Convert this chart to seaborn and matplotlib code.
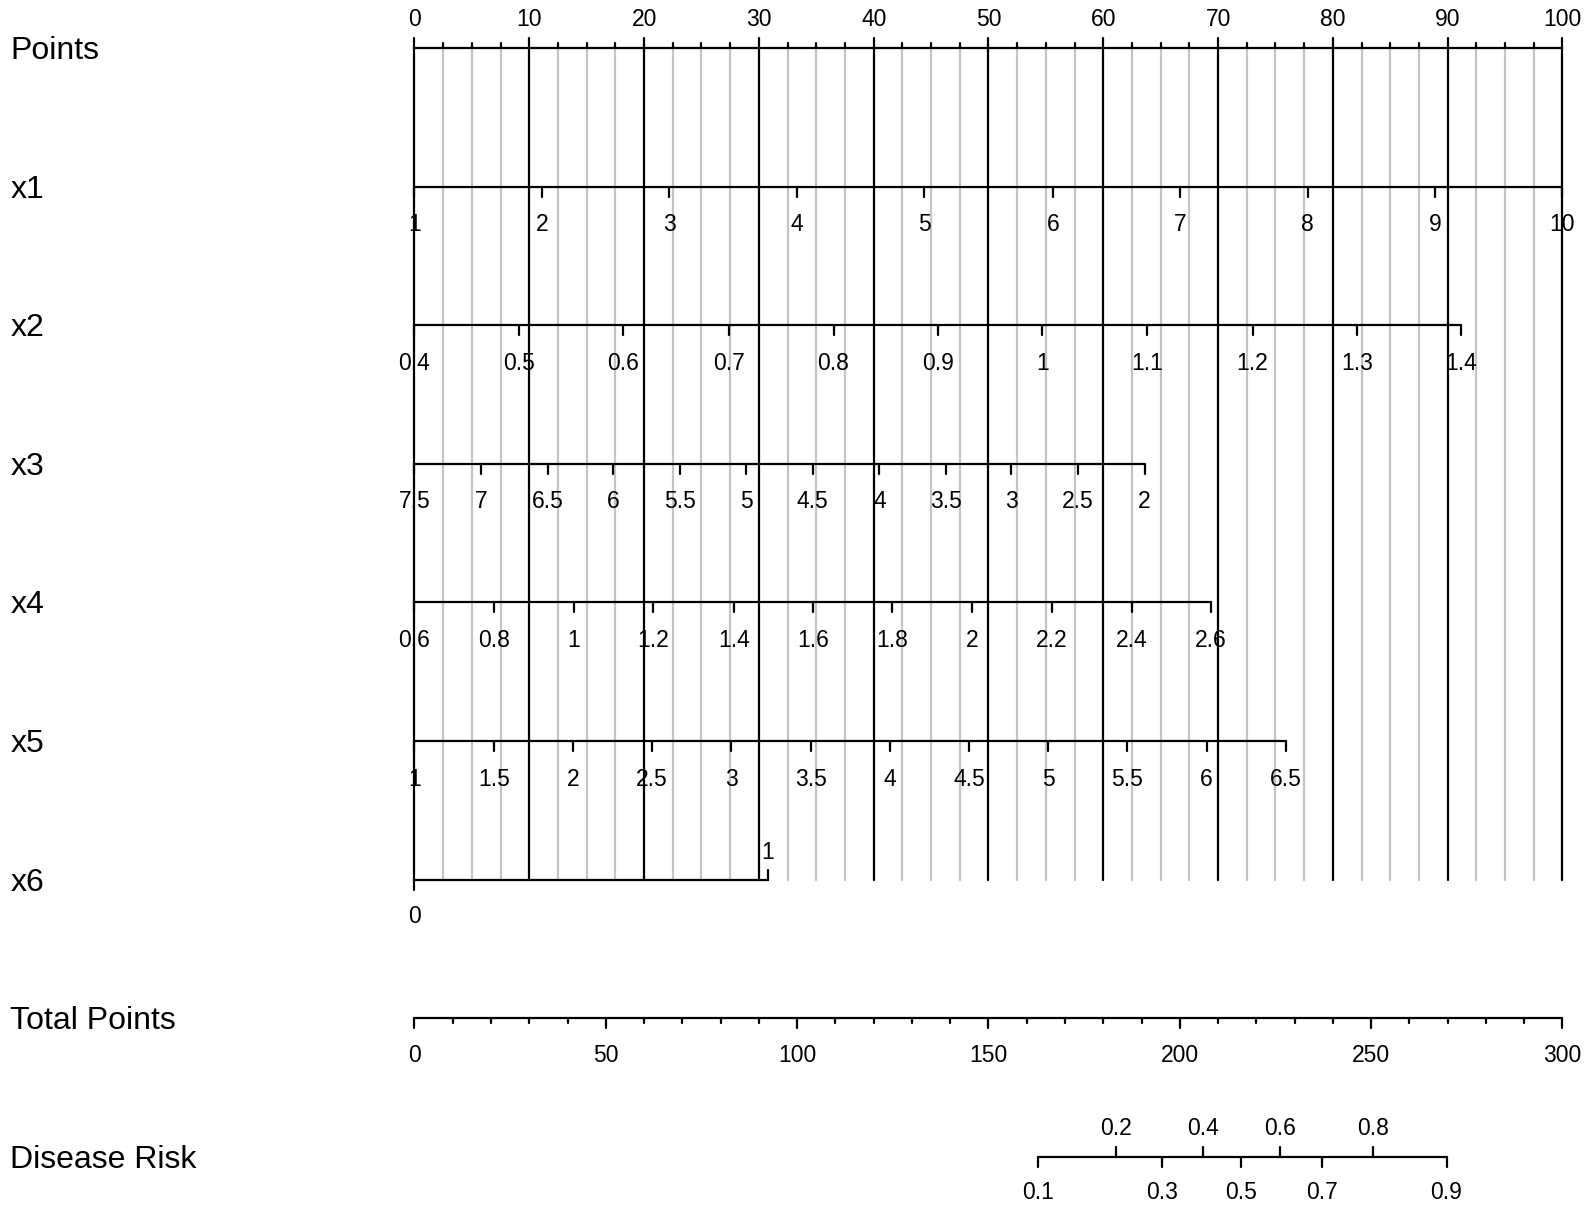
import matplotlib
matplotlib.use('Agg')
import pandas as pd
import matplotlib.pyplot as plt
import seaborn as sns

# ------------------------------------------------------------------------------
# 노모그램 데이터
# ------------------------------------------------------------------------------
row_names = ['Points', 'x1', 'x2', 'x3', 'x4', 'x5', 'x6', 'Total Points', 'Disease Risk']

# 변수별 눈금 라벨과 해당 points 위치
x1_labels = ['1', '2', '3', '4', '5', '6', '7', '8', '9', '10']
x1_points = [0, 11.1, 22.2, 33.3, 44.4, 55.6, 66.7, 77.8, 88.9, 100]

x2_labels = ['0.4', '0.5', '0.6', '0.7', '0.8', '0.9', '1', '1.1', '1.2', '1.3', '1.4']
x2_points = [0, 9.1, 18.2, 27.4, 36.5, 45.6, 54.7, 63.8, 73.0, 82.1, 91.2]

x3_labels = ['7.5', '7', '6.5', '6', '5.5', '5', '4.5', '4', '3.5', '3', '2.5', '2']
x3_points = [0, 5.8, 11.6, 17.3, 23.1, 28.9, 34.7, 40.5, 46.3, 52.0, 57.8, 63.6]

x4_labels = ['0.6', '0.8', '1', '1.2', '1.4', '1.6', '1.8', '2', '2.2', '2.4', '2.6']
x4_points = [0, 6.9, 13.9, 20.8, 27.8, 34.7, 41.6, 48.6, 55.5, 62.5, 69.4]

x5_labels = ['1', '1.5', '2', '2.5', '3', '3.5', '4', '4.5', '5', '5.5', '6', '6.5']
x5_points = [0, 6.9, 13.8, 20.7, 27.6, 34.5, 41.4, 48.3, 55.2, 62.1, 69.0, 75.9]

x6_labels = ['0', '1']
x6_points = [0, 30.75]

# Total Points 축
total_labels = ['0', '50', '100', '150', '200', '250', '300']
total_values = [0, 50, 100, 150, 200, 250, 300]

# Disease Risk 눈금과 해당 Total Points 위치
risk_labels = ['0.1', '0.2', '0.3', '0.4', '0.5', '0.6', '0.7', '0.8', '0.9']
risk_total = [163.0, 183.2, 195.4, 206.0, 216.1, 226.2, 237.1, 250.4, 269.7]

# ------------------------------------------------------------------------------
# 그림 설정
# ------------------------------------------------------------------------------
sns.set_theme(style='white')
plt.rcParams['font.family'] = ['Liberation Sans', 'DejaVu Sans']
plt.rcParams['text.color'] = 'black'

fig = plt.figure(figsize=(15.94, 12.11), dpi=100)
ax = fig.add_axes([0, 0, 1, 1])

# 픽셀 좌표 기준: x는 points (0 -> 414.5px, 100 -> 1562.5px), y는 픽셀
x0_px, px_per_pt = 414.5, 11.48
ax.set_xlim(-x0_px / px_per_pt, (1594 - x0_px) / px_per_pt)
ax.set_ylim(1211, 0)
ax.axis('off')

row_y = [48 + 138.6 * i for i in range(len(row_names))]
lw = 1.6
tick_fs = 16.5
name_fs = 23

# 행 이름
for name, y in zip(row_names, row_y):
    ax.text(-35.2, y + 3, name, ha='left', va='center', fontsize=name_fs, color='black')

# 세로 격자선 (Points ~ x6)
grid_rows = []
for k in range(41):
    p = k * 2.5
    kind = 'major' if k % 4 == 0 else 'minor'
    grid_rows.append({'x': p, 'y': row_y[0], 'seg': k, 'kind': kind})
    grid_rows.append({'x': p, 'y': row_y[6], 'seg': k, 'kind': kind})
grid = pd.DataFrame(grid_rows)
sns.lineplot(data=grid[grid['kind'] == 'minor'], x='x', y='y', units='seg', estimator=None,
             sort=False, color='#c4c4c4', linewidth=lw, ax=ax, legend=False)
sns.lineplot(data=grid[grid['kind'] == 'major'], x='x', y='y', units='seg', estimator=None,
             sort=False, color='black', linewidth=lw, ax=ax, legend=False)

# 가로 축선
scales = [
    (row_y[0], 0, 100),
    (row_y[1], x1_points[0], x1_points[-1]),
    (row_y[2], x2_points[0], x2_points[-1]),
    (row_y[3], x3_points[0], x3_points[-1]),
    (row_y[4], x4_points[0], x4_points[-1]),
    (row_y[5], x5_points[0], x5_points[-1]),
    (row_y[6], x6_points[0], x6_points[-1]),
    (row_y[7], 0, 100),
    (row_y[8], risk_total[0] / 3, risk_total[-1] / 3),
]
line_rows = []
for i, (y, a, b) in enumerate(scales):
    line_rows.append({'x': a, 'y': y, 'seg': i})
    line_rows.append({'x': b, 'y': y, 'seg': i})
lines = pd.DataFrame(line_rows)
sns.lineplot(data=lines, x='x', y='y', units='seg', estimator=None, sort=False,
             color='black', linewidth=lw, ax=ax, legend=False)

# Points 축: 위쪽 눈금과 라벨
y = row_y[0]
for k in range(41):
    p = k * 2.5
    length = 10 if k % 4 == 0 else 5
    ax.plot([p, p], [y, y - length], color='black', linewidth=lw)
for v in range(0, 101, 10):
    ax.text(v, y - 28, str(v), ha='center', va='center', fontsize=tick_fs, color='black')

# 변수 축: 아래 눈금과 라벨
var_scales = [
    (x1_labels, x1_points), (x2_labels, x2_points), (x3_labels, x3_points),
    (x4_labels, x4_points), (x5_labels, x5_points),
]
for i, (labels, pts) in enumerate(var_scales):
    y = row_y[i + 1]
    for lab, p in zip(labels, pts):
        ax.plot([p, p], [y, y + 10], color='black', linewidth=lw)
        ax.text(p, y + 38, lab, ha='center', va='center', fontsize=tick_fs, color='black')

# x6: 0은 아래, 1은 위
y = row_y[6]
ax.plot([x6_points[0]] * 2, [y, y + 10], color='black', linewidth=lw)
ax.text(x6_points[0], y + 37, x6_labels[0], ha='center', va='center', fontsize=tick_fs, color='black')
ax.plot([x6_points[1]] * 2, [y, y - 10], color='black', linewidth=lw)
ax.text(x6_points[1], y - 27, x6_labels[1], ha='center', va='center', fontsize=tick_fs, color='black')

# Total Points 축
y = row_y[7]
for v in range(0, 301, 10):
    length = 10 if v % 50 == 0 else 5
    ax.plot([v / 3, v / 3], [y, y + length], color='black', linewidth=lw)
for lab, v in zip(total_labels, total_values):
    ax.text(v / 3, y + 37, lab, ha='center', va='center', fontsize=tick_fs, color='black')

# Disease Risk 축: 짝수 위, 홀수 아래
y = row_y[8]
for i, (lab, t) in enumerate(zip(risk_labels, risk_total)):
    p = t / 3
    if i % 2 == 1:
        ax.plot([p, p], [y, y - 10], color='black', linewidth=lw)
        ax.text(p, y - 28, lab, ha='center', va='center', fontsize=tick_fs, color='black')
    else:
        ax.plot([p, p], [y, y + 10], color='black', linewidth=lw)
        ax.text(p, y + 36, lab, ha='center', va='center', fontsize=tick_fs, color='black')

fig.savefig('out.png', dpi=100, facecolor='white')
